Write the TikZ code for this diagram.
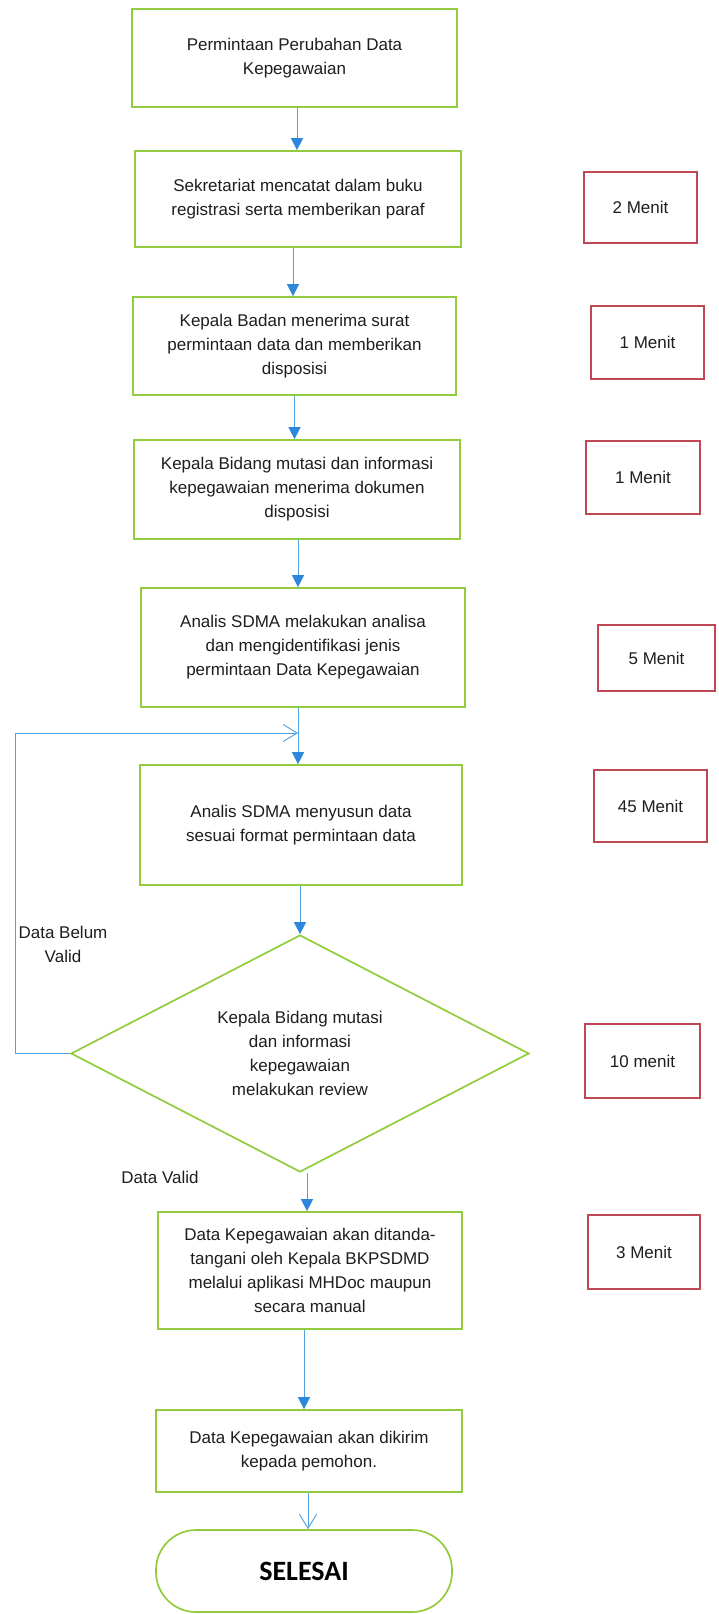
\documentclass[tikz,border=0pt]{standalone}
\usepackage{fontspec}
\setmainfont{Liberation Sans}
\newfontfamily\carlitofont{Carlito}
\usetikzlibrary{shapes.geometric,arrows.meta,calc}
\definecolor{boxgreen}{RGB}{146,204,60}
\definecolor{boxred}{RGB}{190,70,85}
\definecolor{arrblue}{RGB}{45,135,220}
\definecolor{lineblue}{RGB}{80,160,225}
\definecolor{txt}{RGB}{30,30,30}
\newcommand\fsbox{\fontsize{17}{24}\selectfont}
\begin{document}
\begin{tikzpicture}[x=1pt,y=-1pt,
  stepbox/.style={draw=boxgreen,line width=1.7pt,rectangle,inner sep=0pt,align=center,font=\fsbox,text=txt},
  timebox/.style={draw=boxred,line width=1.7pt,rectangle,inner sep=0pt,align=center,font=\fsbox,text=txt},
  decbox/.style={draw=boxgreen,line width=1.7pt,diamond,inner sep=0pt,align=center,font=\fsbox,text=txt},
  endbox/.style={draw=boxgreen,line width=1.7pt,rectangle,rounded corners=40pt,inner sep=0pt,align=center,font=\carlitofont\bfseries\fontsize{28}{32}\selectfont,text=black},
  lbl/.style={align=center,font=\fsbox,text=txt,inner sep=0pt},
  arr/.style={draw=lineblue,line width=1pt,-{Triangle[width=12pt,length=12pt,color=arrblue]}},
  openarr/.style={draw=lineblue,line width=0.9pt,-{Straight Barb[length=14pt,width=17pt]}}
]
\useasboundingbox[fill=white] (0,0) rectangle (718,1614);

% main steps
\node[stepbox,minimum width=325pt,minimum height=98pt] (b1) at (294.5,58) {Permintaan Perubahan Data\\Kepegawaian};
\node[stepbox,minimum width=326pt,minimum height=96pt] (b2) at (298,199) {Sekretariat mencatat dalam buku\\registrasi serta memberikan paraf};
\node[stepbox,minimum width=323pt,minimum height=98pt] (b3) at (294.5,346) {Kepala Badan menerima surat\\permintaan data dan memberikan\\disposisi};
\node[stepbox,minimum width=326pt,minimum height=99pt] (b4) at (297,489.5) {Kepala Bidang mutasi dan informasi\\kepegawaian menerima dokumen\\disposisi};
\node[stepbox,minimum width=324pt,minimum height=119pt] (b5) at (303,647.5) {Analis SDMA melakukan analisa\\dan mengidentifikasi jenis\\permintaan Data Kepegawaian};
\node[stepbox,minimum width=322pt,minimum height=120pt] (b6) at (301,825) {Analis SDMA menyusun data\\sesuai format permintaan data};
\node[decbox,minimum width=458pt,minimum height=237pt,aspect=1.93] (d) at (300,1053.5) {Kepala Bidang mutasi\\dan informasi\\kepegawaian\\melakukan review};
\node[stepbox,minimum width=304pt,minimum height=117pt] (b7) at (310,1270.5) {Data Kepegawaian akan ditanda-\\tangani oleh Kepala BKPSDMD\\melalui aplikasi MHDoc maupun\\secara manual};
\node[stepbox,minimum width=306pt,minimum height=82pt] (b8) at (309,1451) {Data Kepegawaian akan dikirim\\kepada pemohon.};
\node[endbox,minimum width=296pt,minimum height=82pt] (s) at (304,1571) {SELESAI};

% time boxes
\node[timebox,minimum width=113pt,minimum height=71pt] (r2) at (640.5,207.5) {2 Menit};
\node[timebox,minimum width=113pt,minimum height=73pt] (r3) at (647.5,342.5) {1 Menit};
\node[timebox,minimum width=114pt,minimum height=73pt] (r4) at (643,477.5) {1 Menit};
\node[timebox,minimum width=117pt,minimum height=66pt] (r5) at (656.5,658) {5 Menit};
\node[timebox,minimum width=113pt,minimum height=72pt] (r6) at (650.5,806) {45 Menit};
\node[timebox,minimum width=115pt,minimum height=74pt] (rd) at (642.5,1061) {10 menit};
\node[timebox,minimum width=112pt,minimum height=74pt] (r7) at (644,1252) {3 Menit};

% labels
\node[lbl] (lb) at (63,944) {Data Belum\\Valid};
\node[lbl] (lv) at (160,1177) {Data Valid};

% connectors
\draw[arr] ([xshift=2.5pt]b1.south) -- ([xshift=2.5pt]b1.south |- b2.north);
\draw[arr] ([xshift=-5pt]b2.south) -- ([xshift=-5pt]b2.south |- b3.north);
\draw[arr] (b3.south) -- (b3.south |- b4.north);
\draw[arr] ([xshift=1pt]b4.south) -- ([xshift=1pt]b4.south |- b5.north);
\draw[arr] ([xshift=-5pt]b5.south) -- ([xshift=-5pt]b5.south |- b6.north);
\draw[arr] (b6.south -| d.north) -- (d.north);
\draw[arr] ([xshift=7pt]d.south) -- ([xshift=7pt]d.south |- b7.north);
\draw[arr] ([xshift=-6pt]b7.south) -- ([xshift=-6pt]b7.south |- b8.north);
\draw[openarr] ([xshift=-1pt]b8.south) -- ([xshift=-1pt]b8.south |- s.north);

% loop back
\coordinate (lc) at (15,733);
\coordinate (join) at (298,733);
\draw[openarr] (d.west) -| (lc) -- (join);
\end{tikzpicture}
\end{document}
